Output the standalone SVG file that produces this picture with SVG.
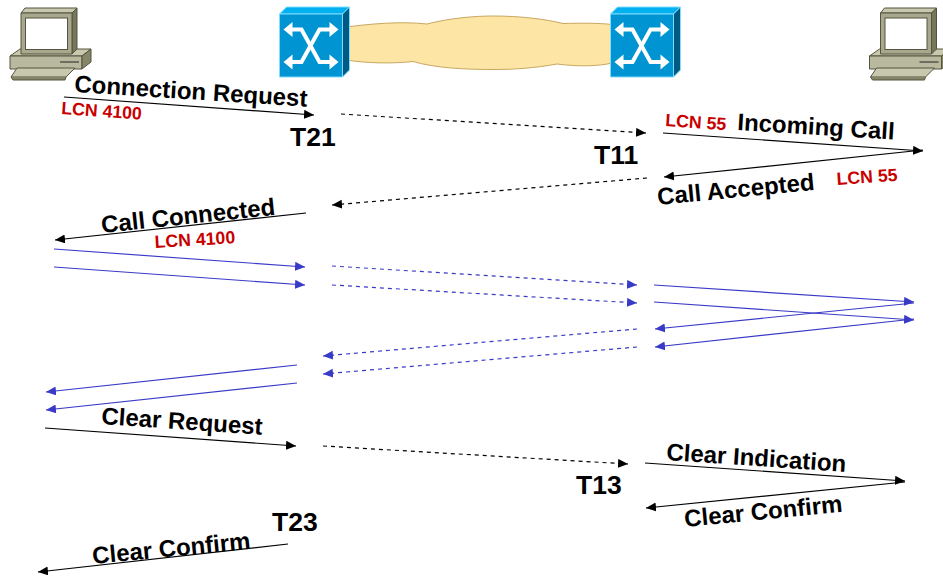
<svg xmlns="http://www.w3.org/2000/svg" xmlns:xlink="http://www.w3.org/1999/xlink" width="943" height="576" viewBox="0 0 943 576">
<style>
text{font-family:"Liberation Sans",Arial,sans-serif;font-weight:bold;fill:#000}
.m{font-size:24px}
.t{font-size:26.500px}
.r{font-size:17.700px;fill:#c80000}
.c{fill:none;stroke-width:1.2}
.k{stroke:#000;marker-end:url(#ak)}
.b{stroke:#3a3ac8;marker-end:url(#ab)}
.d{stroke-dasharray:4 4}
.pc{stroke:#55553f;stroke-width:1}
</style>
<defs>
<marker id="ak" markerUnits="userSpaceOnUse" markerWidth="12" markerHeight="10" refX="10" refY="4.5" orient="auto"><path d="M0 0L10 4.5L0 9Z" fill="#000"/></marker>
<marker id="ab" markerUnits="userSpaceOnUse" markerWidth="12" markerHeight="10" refX="10" refY="4.5" orient="auto"><path d="M0 0L10 4.5L0 9Z" fill="#3a3ac8"/></marker>
<g id="pcshape">
<path class="pc" d="M10 56L20 49H91L82 56Z" fill="#c8c8ae"/>
<path class="pc" d="M10 56H82V69H10Z" fill="#b9b99f"/>
<path class="pc" d="M82 56L91 49V62L82 69Z" fill="#85856a"/>
<path d="M60 62H79" stroke="#222" stroke-width="1" fill="none"/>
<path class="pc" d="M21 13L25 8H77L72 13Z" fill="#c8c8ae"/>
<path class="pc" d="M72 13L77 8V49L72 54Z" fill="#77775c"/>
<path class="pc" d="M21 13H72V54H21Z" fill="#a8a88e"/>
<rect x="25.5" y="18" width="42" height="31.500" fill="#fff" stroke="#55553f"/>
<path class="pc" d="M17 68H75L66 77H11Z" fill="#c8c8ae" stroke-width="1.500"/>
<path d="M11 77L13 80H65L66 77" fill="#85856a" stroke="#55553f"/>
</g>
<g id="swshape">
<path d="M0 14L7 7H70L63 14Z" fill="#00b0f0" stroke="#7fdcff"/>
<path d="M63 14L70 7V70L63 77Z" fill="#005a84" stroke="#7fdcff"/>
<path d="M0 14H63V77H0Z" fill="#0094d2" stroke="#7fdcff"/>
<g fill="none" stroke="#fff" stroke-width="4">
<path d="M8 29.500H22L40 62H55"/>
<path d="M8 62H22L40 29.500H55"/>
</g>
<g fill="#fff">
<path d="M4 29.500L13 22V37Z"/><path d="M59 29.500L50 22V37Z"/>
<path d="M4 62L13 54.500V69.500Z"/><path d="M59 62L50 54.500V69.500Z"/>
</g>
</g>
</defs>
<g id="cloud"><path d="M346 27C370 24 400 21 427 24C450 18 475 16 493 16C520 16 545 19 563 23.500C580 23 600 23 612 24.500V63C600 66 580 67 557 64C535 68 515 69.500 493 69.500C465 69.500 435 68 413 61.500C390 64 365 63 346 60Z" fill="#fde5a6" stroke="#c8a860"/></g>
<g id="pc-left"><use xlink:href="#pcshape" href="#pcshape"/></g>
<g id="pc-right"><use xlink:href="#pcshape" href="#pcshape" x="859.500"/></g>
<g id="switch-left"><use xlink:href="#swshape" href="#swshape" x="279.500"/></g>
<g id="switch-right"><use xlink:href="#swshape" href="#swshape" x="610.500"/></g>
<g id="connectors">
<path class="c k" d="M64 97L314 115"/>
<path class="c k d" d="M341 114L646 133"/>
<path class="c k" d="M663 133L923 151"/>
<path class="c k" d="M923 150L664 177"/>
<path class="c k d" d="M647 178L332 205"/>
<path class="c k" d="M306 213L55 240"/>
<path class="c b" d="M54 249L305 267"/>
<path class="c b" d="M54 267L305 285"/>
<path class="c b d" d="M332 266L637 285"/>
<path class="c b d" d="M332 285L637 303"/>
<path class="c b" d="M654 285L914 302"/>
<path class="c b" d="M654 302L914 320"/>
<path class="c b" d="M914 303L655 329"/>
<path class="c b" d="M914 319L655 347"/>
<path class="c b d" d="M637 329L323 356"/>
<path class="c b d" d="M637 347L323 374"/>
<path class="c b" d="M297 365L46 392"/>
<path class="c b" d="M297 383L46 410"/>
<path class="c k" d="M45 428L296 446"/>
<path class="c k d" d="M323 446L628 464"/>
<path class="c k" d="M645 463L905 481"/>
<path class="c k" d="M905 482L646 508"/>
<path class="c k" d="M288 544L38 572"/>
</g>
<g id="labels">
<text class="m" transform="translate(74 92) rotate(3.600)">Connection Request</text>
<text class="r" transform="translate(61 114) rotate(4)">LCN 4100</text>
<text class="t" x="290" y="146">T21</text>
<text class="t" x="594" y="164">T11</text>
<text class="r" transform="translate(665 126) rotate(4)">LCN 55</text>
<text class="m" transform="translate(737 130) rotate(3.500)">Incoming Call</text>
<text class="m" transform="translate(658 205) rotate(-5.500)">Call Accepted</text>
<text class="r" transform="translate(837 185) rotate(-4)">LCN 55</text>
<text class="m" transform="translate(102 233) rotate(-6)">Call Connected</text>
<text class="r" transform="translate(155 248) rotate(-3.500)">LCN 4100</text>
<text class="m" transform="translate(101 424) rotate(3.800)">Clear Request</text>
<text class="t" x="576" y="494">T13</text>
<text class="m" transform="translate(666 460) rotate(3.800)">Clear Indication</text>
<text class="m" transform="translate(685 527) rotate(-5.500)">Clear Confirm</text>
<text class="t" x="272" y="531">T23</text>
<text class="m" transform="translate(93 564) rotate(-5.500)">Clear Confirm</text>
</g>
</svg>
